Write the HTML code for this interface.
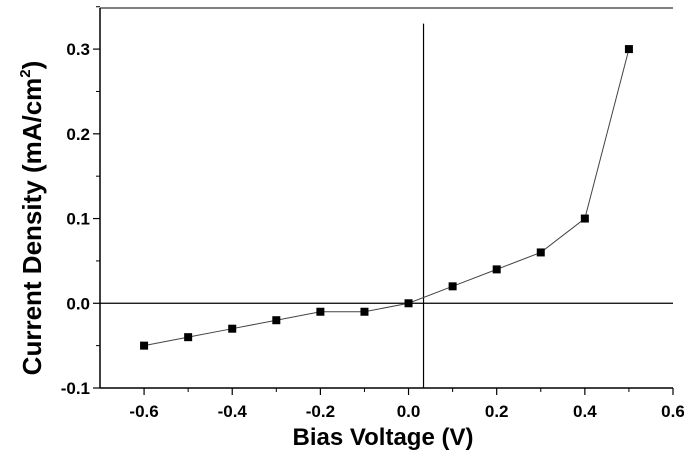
<!DOCTYPE html>
<html><head><meta charset="utf-8"><style>
html,body{margin:0;padding:0;background:#fff;}
svg{display:block;font-family:"Liberation Sans",Arial,sans-serif;}
</style></head><body>
<svg id="chart" width="684" height="454"></svg>
<script>
const voltages=[-0.6,-0.5,-0.4,-0.3,-0.2,-0.1,0.0,0.1,0.2,0.3,0.4,0.5];
const currents=[-0.05,-0.04,-0.03,-0.02,-0.01,-0.01,0.0,0.02,0.04,0.06,0.1,0.3];
const xTicks=[-0.6,-0.4,-0.2,0.0,0.2,0.4,0.6];
const xTickLabels=["-0.6","-0.4","-0.2","0.0","0.2","0.4","0.6"];
const yTicks=[-0.1,0.0,0.1,0.2,0.3];
const yTickLabels=["-0.1","0.0","0.1","0.2","0.3"];
const vLineX=0.034;

const NS="http://www.w3.org/2000/svg";
const svg=document.getElementById('chart');
const L=100,R=673,T=8,B=388,xmin=-0.7,xmax=0.6,ymin=-0.1,ymax=0.3485;
function sx(v){return L+(v-xmin)/(xmax-xmin)*(R-L);}
function sy(v){return B-(v-ymin)/(ymax-ymin)*(B-T);}
function mk(tag,attrs){const e=document.createElementNS(NS,tag);for(const k in attrs)e.setAttribute(k,attrs[k]);svg.appendChild(e);return e;}

let e;
e=mk('line',{x1:L,y1:B,x2:R,y2:B,stroke:'#000','stroke-width':1.5});


e=mk('line',{x1:L,y1:T,x2:L,y2:B,stroke:'#000','stroke-width':1.5});


e=mk('line',{x1:L,y1:T,x2:R,y2:T,stroke:'#000','stroke-width':1});


e=mk('line',{x1:L,y1:sy(0),x2:R,y2:sy(0),stroke:'#000','stroke-width':1.2});


e=mk('line',{x1:sx(vLineX),y1:sy(0.33),x2:sx(vLineX),y2:B,stroke:'#000','stroke-width':1.2});



for(let i=0;i<xTicks.length;i++){
  const x=sx(xTicks[i]);
  e=mk('line',{x1:x,y1:B,x2:x,y2:B+7,stroke:'#000','stroke-width':1.2});
  
  
  if(i<xTicks.length-1){const xm=sx(xTicks[i]+0.1);
    e=mk('line',{x1:xm,y1:B,x2:xm,y2:B+4,stroke:'#000','stroke-width':1});
    
    }
  e=mk('text',{x:x,y:B+29,'text-anchor':'middle','font-size':17,'font-weight':'bold'});
  e.textContent=xTickLabels[i];
  
  
}
for(let i=0;i<yTicks.length;i++){
  const y=sy(yTicks[i]);
  e=mk('line',{x1:L-7,y1:y,x2:L,y2:y,stroke:'#000','stroke-width':1.2});
  
  
  const ym=sy(yTicks[i]+0.05);
  e=mk('line',{x1:L-4,y1:ym,x2:L,y2:ym,stroke:'#000','stroke-width':1});
  
  
  e=mk('text',{x:L-10,y:y+6,'text-anchor':'end','font-size':17,'font-weight':'bold'});
  e.textContent=yTickLabels[i];
  
  
}

let pts=voltages.map((v,i)=>sx(v)+','+sy(currents[i])).join(' ');
e=mk('polyline',{points:pts,fill:'none',stroke:'#444','stroke-width':1});


for(let i=0;i<voltages.length;i++){
  e=mk('rect',{x:sx(voltages[i])-4,y:sy(currents[i])-4,width:8,height:8,fill:'#000'});
  
  
}

e=mk('text',{x:383,y:445,'text-anchor':'middle','font-size':24,'font-weight':'bold'});
e.textContent='Bias Voltage (V)';


e=mk('text',{x:0,y:0,'text-anchor':'middle','font-size':26,'font-weight':'bold',transform:'translate(41,218) rotate(-90)'});
e.innerHTML='Current Density (mA/cm<tspan font-size="15" dy="-11">2</tspan><tspan dy="11">)</tspan>';


</script>
</body></html>
